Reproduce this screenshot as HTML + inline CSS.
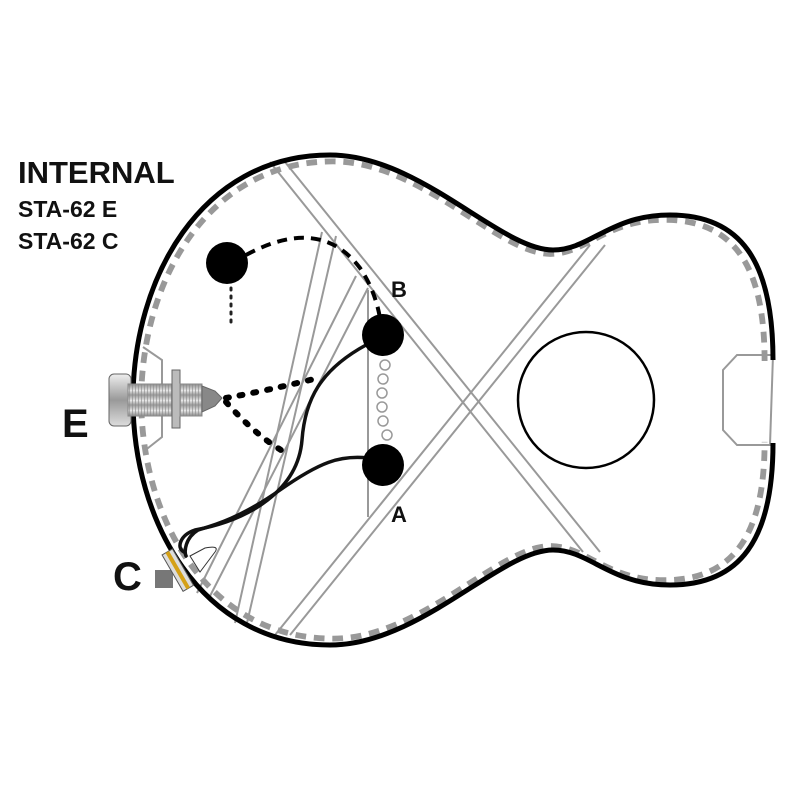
<!DOCTYPE html>
<html><head><meta charset="utf-8"><style>
html,body{margin:0;padding:0;background:#fff;}
svg{display:block}
text{font-family:"Liberation Sans",sans-serif;}
</style></head><body>
<svg width="800" height="800" viewBox="0 0 800 800" xmlns="http://www.w3.org/2000/svg">
<defs>
<linearGradient id="bar" x1="0" y1="0" x2="0" y2="1">
<stop offset="0" stop-color="#eee"/><stop offset="0.5" stop-color="#999"/><stop offset="1" stop-color="#ddd"/>
</linearGradient>
<pattern id="thr" width="3" height="10" patternUnits="userSpaceOnUse">
<rect width="3" height="10" fill="url(#bar)"/><rect width="1" height="10" fill="#888" opacity="0.6"/>
</pattern>
</defs>
<rect width="800" height="800" fill="#fff"/>

<!-- braces -->
<g stroke="#999" stroke-width="2" fill="none">
<line x1="270" y1="162" x2="583" y2="552"/>
<line x1="285" y1="162" x2="600" y2="552"/>
<line x1="590" y1="245" x2="275" y2="635"/>
<line x1="605" y1="245" x2="290" y2="635"/>
<line x1="322" y1="232" x2="235" y2="623"/>
<line x1="336" y1="236" x2="247" y2="623"/>
<line x1="356" y1="276" x2="197" y2="593"/>
<line x1="368" y1="288" x2="209" y2="598"/>
<line x1="368" y1="290" x2="368" y2="517"/>
<polyline points="143,347 162,360 162,437 143,452"/>
<polyline points="773,355 737,355 723,370 723,430 737,445 770,445 773,355"/>
</g>

<!-- outline dashed -->
<path transform="translate(450 400) scale(0.974) translate(-450 -400)" d="M773,360 C773,260 740,215 670,215 C610,215 590,250 553,250 C500,250 420,155 330,155 C200,155 133,280 133,400 C133,520 200,645 330,645 C420,645 500,550 553,550 C590,550 610,585 670,585 C740,585 773,540 773,443" fill="none" stroke="#999" stroke-width="6" stroke-dasharray="11,8"/>
<path d="M773,360 C773,260 740,215 670,215 C610,215 590,250 553,250 C500,250 420,155 330,155 C200,155 133,280 133,400 C133,520 200,645 330,645 C420,645 500,550 553,550 C590,550 610,585 670,585 C740,585 773,540 773,443" fill="none" stroke="#000" stroke-width="5"/>

<circle cx="586" cy="400" r="68" fill="none" stroke="#000" stroke-width="2.5"/>

<!-- dashed connections -->
<path d="M246,255 Q320,215 360,268 Q375,290 380,318" fill="none" stroke="#000" stroke-width="4" stroke-dasharray="10,7"/>
<line x1="231" y1="288" x2="231" y2="328" stroke="#222" stroke-width="3" stroke-dasharray="2,6" stroke-linecap="round"/>
<path d="M226,398 Q270,390 318,378" fill="none" stroke="#000" stroke-width="6" stroke-dasharray="3,11" stroke-linecap="round"/>
<path d="M226,402 Q260,440 290,455" fill="none" stroke="#000" stroke-width="6" stroke-dasharray="3,11" stroke-linecap="round"/>

<!-- wires -->
<g fill="none" stroke="#111" stroke-width="3.5" stroke-linecap="round">
<path d="M366,345 C320,370 305,400 302,440 C298,490 250,520 195,530 C180,535 176,548 184,552"/>
<path d="M368,458 C340,455 320,462 280,490 C240,518 215,525 198,530 C185,538 184,552 186,556"/>
</g>

<!-- small circles -->
<g fill="#fff" stroke="#999" stroke-width="1.5">
<circle cx="385" cy="365" r="5"/><circle cx="383" cy="379" r="5"/><circle cx="382" cy="393" r="5"/>
<circle cx="382" cy="407" r="5"/><circle cx="383" cy="421" r="5"/><circle cx="387" cy="435" r="5"/>
</g>

<!-- pickups -->
<circle cx="227" cy="263" r="21" fill="#000"/>
<circle cx="383" cy="335" r="21" fill="#000"/>
<circle cx="383" cy="465" r="21" fill="#000"/>

<!-- jack E -->
<g>
<rect x="109" y="374" width="22" height="52" rx="5" fill="url(#bar)" stroke="#666"/>
<rect x="128" y="384" width="48" height="32" fill="url(#thr)" stroke="#888"/>
<rect x="172" y="370" width="8" height="58" fill="#bbb" stroke="#666"/>
<rect x="180" y="384" width="22" height="32" fill="url(#thr)" stroke="#888"/>
<polygon points="202,386 215,391 222,398 215,406 202,412" fill="#888" stroke="#666"/>
</g>

<!-- jack C -->
<rect x="155" y="570" width="18" height="18" fill="#777"/>
<g transform="rotate(-30 180 570)">
<rect x="172" y="548" width="12" height="42" fill="#ddd" stroke="#555"/>
<rect x="176" y="548" width="4" height="42" fill="#d4a017"/>
</g>
<path d="M190,556 L200,572 L215,552 Q220,545 205,548 Z" fill="none" stroke="#333" stroke-width="1"/>

<!-- labels -->
<text x="18" y="183" font-size="31" font-weight="bold" fill="#111">INTERNAL</text>
<text x="18" y="217" font-size="23" font-weight="bold" fill="#111">STA-62 E</text>
<text x="18" y="249" font-size="23" font-weight="bold" fill="#111">STA-62 C</text>
<text x="62" y="437" font-size="40" font-weight="bold" fill="#111">E</text>
<text x="113" y="590" font-size="40" font-weight="bold" fill="#111">C</text>
<text x="391" y="297" font-size="22" font-weight="bold" fill="#111">B</text>
<text x="391" y="522" font-size="22" font-weight="bold" fill="#111">A</text>
</svg>
</body></html>
